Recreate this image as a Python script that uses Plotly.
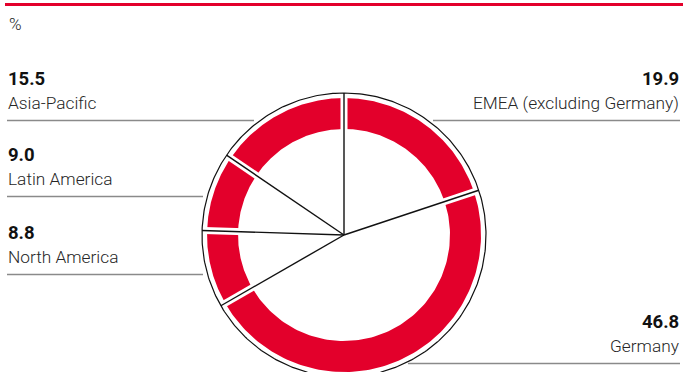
import numpy as np
import plotly.graph_objects as go

# Revenue share by region, in percent (clockwise from 12 o'clock)
regions = ["EMEA (excluding Germany)", "Germany", "North America", "Latin America", "Asia-Pacific"]
shares = [19.9, 46.8, 8.8, 9.0, 15.5]
value_labels = ["19.9", "46.8", "8.8", "9.0", "15.5"]

RED = "#E3002B"
W, H = 683, 372
CX, CY = 344, 235          # ring centre (pixel-like axis units)
R_IN, R_OUT, R_FRAME = 106, 137, 142
FONT = "Roboto, Arial, sans-serif"

# Label blocks: side, y of the rule underneath, x extent of the rule
label_layout = {
    "EMEA (excluding Germany)": dict(side="right", rule_y=120.5, x0=433, x1=680),
    "Germany": dict(side="right", rule_y=363.5, x0=408, x1=680),
    "North America": dict(side="left", rule_y=274.5, x0=7, x1=203),
    "Latin America": dict(side="left", rule_y=196.5, x0=7, x1=203),
    "Asia-Pacific": dict(side="left", rule_y=120.5, x0=7, x1=254),
}


def polar(r, theta):
    """Clockwise-from-top angle (radians) to x/y in the reversed-y frame."""
    return CX + r * np.sin(theta), CY - r * np.cos(theta)


fig = go.Figure()

fractions = np.array(shares) / np.sum(shares)
bounds = np.concatenate([[0.0], np.cumsum(fractions)]) * 2 * np.pi

# Red ring segments
for name, t0, t1 in zip(regions, bounds[:-1], bounds[1:]):
    t = np.linspace(t0, t1, 120)
    xo, yo = polar(R_OUT, t)
    xi, yi = polar(R_IN, t[::-1])
    fig.add_trace(go.Scatter(
        x=np.concatenate([xo, xi, xo[:1]]), y=np.concatenate([yo, yi, yo[:1]]),
        mode="lines", fill="toself", fillcolor=RED, line=dict(width=0),
        hoverinfo="skip", showlegend=False, name=name))

# White gaps between segments
for t in bounds[:-1]:
    xs, ys = polar(np.array([R_IN - 6, R_OUT + 3]), np.array([t, t]))
    fig.add_trace(go.Scatter(x=xs, y=ys, mode="lines",
                             line=dict(color="white", width=7),
                             hoverinfo="skip", showlegend=False))

# Radial boundary lines from the centre to the frame
for t in bounds[:-1]:
    xs, ys = polar(np.array([0, R_FRAME]), np.array([t, t]))
    fig.add_trace(go.Scatter(x=xs, y=ys, mode="lines",
                             line=dict(color="#111111", width=1.4),
                             hoverinfo="skip", showlegend=False))

# Outer frame circle
tc = np.linspace(0, 2 * np.pi, 400)
xf, yf = polar(R_FRAME, tc)
fig.add_trace(go.Scatter(x=xf, y=yf, mode="lines",
                         line=dict(color="#111111", width=1.2),
                         hoverinfo="skip", showlegend=False))

annotations = []
for name, val in zip(regions, value_labels):
    cfg = label_layout[name]
    fig.add_trace(go.Scatter(x=[cfg["x0"], cfg["x1"]], y=[cfg["rule_y"]] * 2,
                             mode="lines", line=dict(color="#8a8a8a", width=1.3),
                             hoverinfo="skip", showlegend=False))
    right = cfg["side"] == "right"
    xt = cfg["x1"] + 1 if right else cfg["x0"] - 1
    anchor = "right" if right else "left"
    annotations.append(dict(
        x=xt, y=cfg["rule_y"] - 41.5, xref="x", yref="y", text=f"<b>{val}</b>",
        showarrow=False, xanchor=anchor, yanchor="middle",
        font=dict(family=FONT, size=18.5, color="#111111")))
    annotations.append(dict(
        x=xt, y=cfg["rule_y"] - 18, xref="x", yref="y", text=name,
        showarrow=False, xanchor=anchor, yanchor="middle",
        font=dict(family=FONT, size=17.3, color="#262626", weight=300)))

annotations.append(dict(
    x=7, y=24, xref="x", yref="y", text="%", showarrow=False,
    xanchor="left", yanchor="middle",
    font=dict(family=FONT, size=17, color="#262626", weight=300)))

fig.update_layout(
    width=W, height=H, margin=dict(l=0, r=0, t=0, b=0),
    paper_bgcolor="white", plot_bgcolor="white",
    xaxis=dict(range=[0, W], visible=False, fixedrange=True),
    yaxis=dict(range=[H, 0], visible=False, fixedrange=True),
    showlegend=False, annotations=annotations,
    shapes=[dict(type="line", xref="x", yref="y", x0=5, x1=W, y0=4.5, y1=4.5,
                 line=dict(color=RED, width=3))],
)

fig.write_html("out.html")
